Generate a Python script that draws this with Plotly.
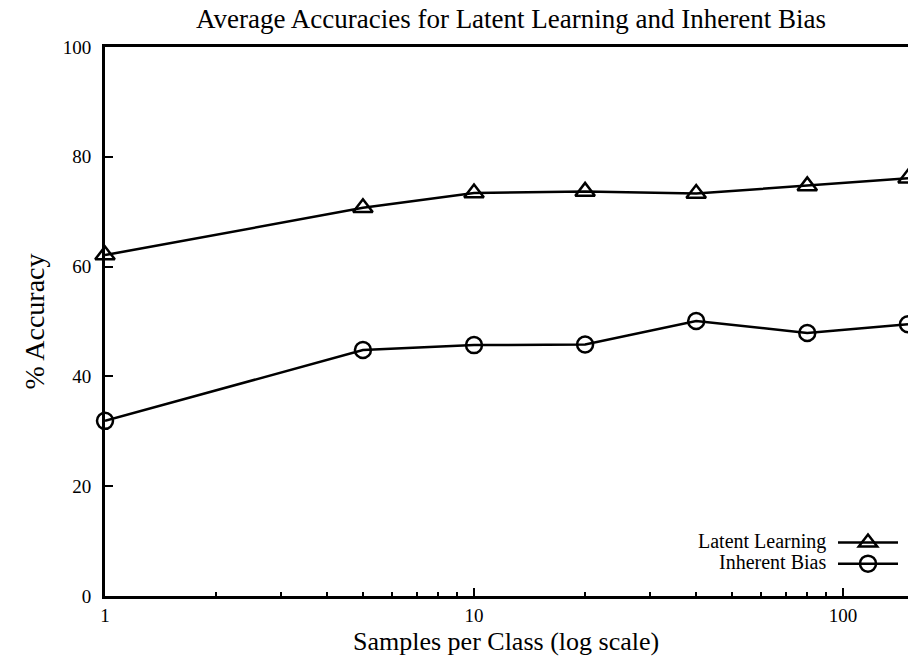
import numpy as np
import plotly.graph_objects as go

samples = [1, 5, 10, 20, 40, 80, 150]
latent = [62.1, 70.7, 73.4, 73.7, 73.3, 74.7, 76.1]
inherent = [31.9, 44.8, 45.7, 45.8, 50.1, 47.9, 49.5]
series_names = ["Latent Learning", "Inherent Bias"]
y_ticks = [0, 20, 40, 60, 80, 100]
x_ticks = [1, 10, 100]
x_minor = [2, 3, 4, 5, 6, 7, 8, 9, 20, 30, 40, 50, 60, 70, 80, 90]
title_text = "Average Accuracies for Latent Learning and Inherent Bias"
x_title = "Samples per Class (log scale)"
y_title = "% Accuracy"

FONT = "Liberation Serif, Times New Roman, serif"

fig = go.Figure()
fig.add_trace(go.Scatter(
    x=samples, y=latent, mode="lines+markers", name="",
    line=dict(color="black", width=2.5),
    marker=dict(symbol="triangle-up-open", size=17, color="black",
                line=dict(width=2.5, color="black")),
    cliponaxis=False, showlegend=True,
))
fig.add_trace(go.Scatter(
    x=samples, y=inherent, mode="lines+markers", name="",
    line=dict(color="black", width=2.5),
    marker=dict(symbol="circle-open", size=16, color="black",
                line=dict(width=2.5, color="black")),
    cliponaxis=False, showlegend=True,
))

fig.update_layout(
    width=908, height=662,
    paper_bgcolor="white", plot_bgcolor="white",
    margin=dict(l=105, r=0, t=47, b=66, autoexpand=False),
    font=dict(family=FONT, size=19, color="black"),
    title=dict(text=title_text,
               x=0.5628, xanchor="center", y=0.986, yanchor="top",
               font=dict(family=FONT, size=27, color="black")),
    showlegend=True,
    legend=dict(x=1.0, xanchor="right", y=0.126, yanchor="top",
                bgcolor="rgba(0,0,0,0)", borderwidth=0,
                font=dict(family=FONT, size=14), itemwidth=60,
                tracegroupgap=0, traceorder="normal"),
    xaxis=dict(
        type="log", range=[0, np.log10(150)],
        tickvals=x_ticks, ticktext=[str(v) for v in x_ticks],
        ticks="inside", ticklen=8, tickwidth=2, tickcolor="black",
        minor=dict(ticks="inside", ticklen=4, tickwidth=2, tickcolor="black",
                   showgrid=False, tickvals=x_minor),
        showline=True, linewidth=3, linecolor="black", mirror=True,
        showgrid=False, zeroline=False,
        ticklabelstandoff=0,
        tickfont=dict(family=FONT, size=19),
    ),
    yaxis=dict(
        range=[0, 100], tickvals=y_ticks,
        ticks="inside", ticklen=8, tickwidth=2, tickcolor="black",
        showline=True, linewidth=3, linecolor="black", mirror=False,
        showgrid=False, zeroline=False,
        ticklabelstandoff=7,
        title=dict(text=y_title, standoff=10,
                   font=dict(family=FONT, size=28)),
        tickfont=dict(family=FONT, size=19),
    ),
)

fig.add_annotation(
    text=x_title, xref="paper", yref="paper", x=0.499, y=-0.082,
    xanchor="center", yanchor="middle", showarrow=False,
    font=dict(family=FONT, size=26, color="black"),
)

for i, name in enumerate(series_names):
    fig.add_annotation(
        text=name, xref="paper", yref="paper",
        x=0.9, y=0.0984 - i * 0.0365, xanchor="right", yanchor="middle",
        showarrow=False, font=dict(family=FONT, size=20, color="black"),
    )

fig.write_html(
    "out.html",
    config={"displayModeBar": False},
    post_script="document.body.style.margin='0';document.body.style.overflow='hidden';",
)
